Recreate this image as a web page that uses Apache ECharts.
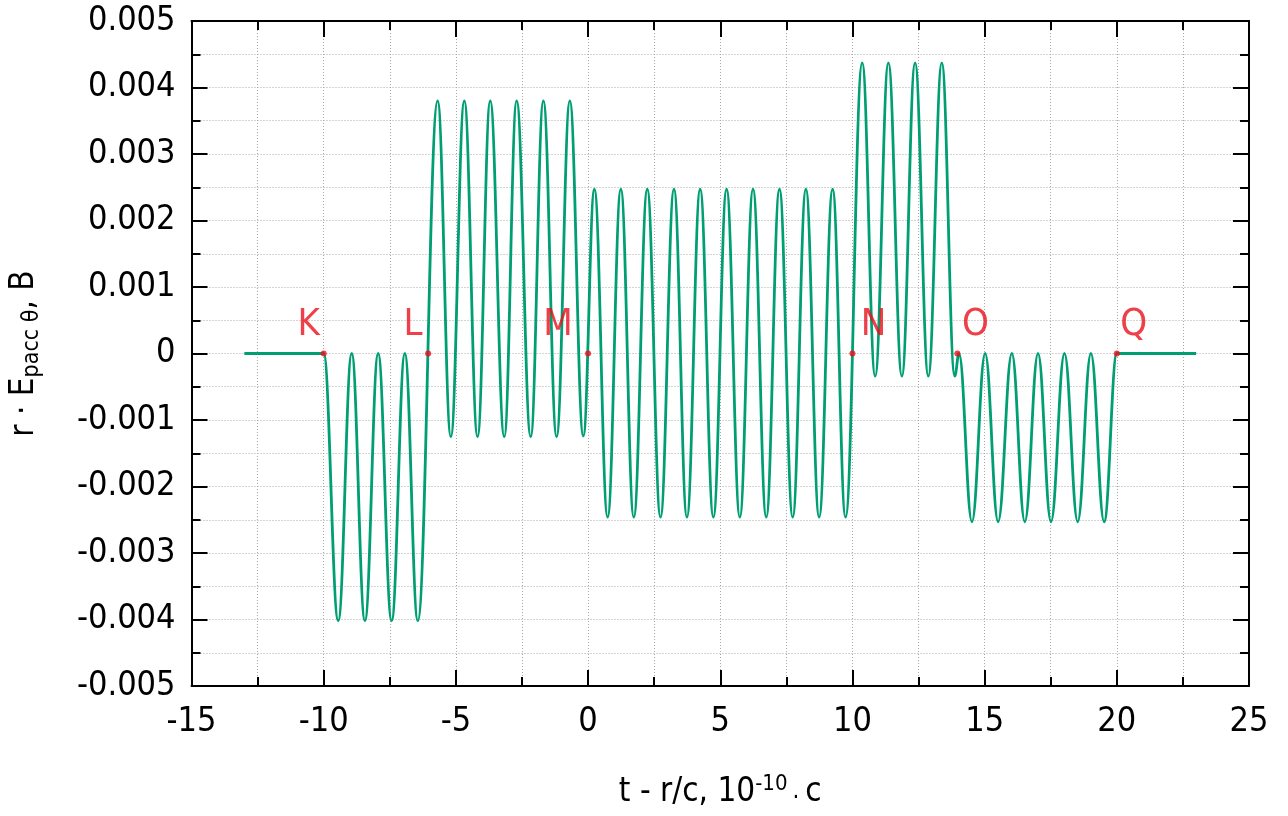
<!DOCTYPE html>
<html>
<head>
<meta charset="utf-8">
<script src="https://cdn.jsdelivr.net/npm/echarts@6/dist/echarts.min.js"></script>
<style>
  html, body { margin: 0; padding: 0; background: #fff; }
  #chart { width: 1288px; height: 816px; }
</style>
</head>
<body>
<div id="chart"></div>
<script>
// extrema of the waveform (x in 1e-10 c, y in B)
const curveX = [
  -13, -10,
  -9.45, -8.94, -8.44, -7.94, -7.43, -6.93, -6.44,
  -5.69, -5.19, -4.68, -4.18, -3.70, -3.17, -2.70, -2.17, -1.69, -1.19, -0.69, -0.18,
  0.24, 0.74, 1.24, 1.73, 2.24, 2.74, 3.25, 3.74, 4.24, 4.74,
  5.24, 5.74, 6.24, 6.74, 7.24, 7.74, 8.24, 8.74, 9.25, 9.74,
  10.37, 10.86, 11.36, 11.87, 12.37, 12.87, 13.38, 13.87,
  14.03,
  14.52, 15.02, 15.51, 16.03, 16.52, 17.02, 17.51, 18.02, 18.52, 19.02, 19.52, 20,
  23
];
const curveY = [
  0, 0,
  -0.00402, 0, -0.00402, 0, -0.00402, 0, -0.00402,
  0.0038, -0.00125, 0.0038, -0.00125, 0.0038, -0.00125, 0.0038, -0.00125, 0.0038, -0.00125, 0.0038, -0.00124,
  0.00247, -0.00246, 0.00247, -0.00246, 0.00247, -0.00246, 0.00247, -0.00246, 0.00247, -0.00246,
  0.00247, -0.00246, 0.00247, -0.00246, 0.00247, -0.00246, 0.00247, -0.00246, 0.00247, -0.00246,
  0.00437, -0.00034, 0.00437, -0.00034, 0.00437, -0.00034, 0.00437, -0.00034,
  0,
  -0.00253, 0, -0.00253, 0, -0.00253, 0, -0.00253, 0, -0.00253, 0, -0.00253, 0,
  0
];

const markNames = ['K', 'L', 'M', 'N', 'O', 'Q'];
const markX = [-10, -6.05, 0, 10, 13.97, 20];
const markY = [0, 0, 0, 0, 0, 0];

const xTickLabels = ['-15', '-10', '-5', '0', '5', '10', '15', '20', '25'];
const yTickLabels = ['-0.005', '-0.004', '-0.003', '-0.002', '-0.001', '0',
  '0.001', '0.002', '0.003', '0.004', '0.005'];

// label placement (pixels from the dot)
const markLabelOffset = [[-15, -28], [-15, -28], [-30, -28], [21, -28], [18, -28], [17, -28]];

const FONT = "'DejaVu Sans Condensed', 'Liberation Sans', sans-serif";
const GREEN = '#009e73';
const RED = '#e8101a';

const gridLine = { show: true, lineStyle: { color: '#a8a8a8', width: 1, type: [1, 2] } };

function makeX(pos) {
  return {
    type: 'value', position: pos, min: -15, max: 25, interval: 5,
    axisLine: { show: true, onZero: false, lineStyle: { color: '#000', width: 2 } },
    axisTick: { show: true, inside: true, length: 16, lineStyle: { color: '#000', width: 2 } },
    minorTick: { show: true, splitNumber: 2, length: 9, lineStyle: { color: '#000', width: 2 } },
    splitLine: pos === 'bottom' ? gridLine : { show: false },
    minorSplitLine: pos === 'bottom' ? gridLine : { show: false },
    axisLabel: {
      show: pos === 'bottom', fontSize: 34, fontFamily: FONT, color: '#000', margin: 19,
      formatter: v => xTickLabels[Math.round((v + 15) / 5)]
    }
  };
}

function makeY(pos) {
  return {
    type: 'value', position: pos, min: -0.005, max: 0.005, interval: 0.001,
    axisLine: { show: true, onZero: false, lineStyle: { color: '#000', width: 2 } },
    axisTick: { show: true, inside: true, length: 16, lineStyle: { color: '#000', width: 2 } },
    minorTick: { show: true, splitNumber: 2, length: 9, lineStyle: { color: '#000', width: 2 } },
    splitLine: pos === 'left' ? gridLine : { show: false },
    minorSplitLine: pos === 'left' ? gridLine : { show: false },
    axisLabel: {
      show: pos === 'left', fontSize: 34, fontFamily: FONT, color: '#000', margin: 16,
      formatter: v => yTickLabels[Math.round((v + 0.005) / 0.001)]
    }
  };
}

const xBottom = makeX('bottom');
xBottom.name = '{a|t - r/c, 10}{s|-10}{d|·}{a|c}';
xBottom.nameLocation = 'middle';
xBottom.nameGap = 87;
xBottom.nameTextStyle = {
  rich: {
    a: { fontSize: 33, lineHeight: 38, fontFamily: FONT, color: '#000' },
    s: { fontSize: 22, lineHeight: 22, fontFamily: FONT, color: '#000', verticalAlign: 'top' },
    d: { fontSize: 24, lineHeight: 34, fontFamily: FONT, color: '#000', verticalAlign: 'bottom', padding: [0, 6, 0, 5] }
  }
};

const yLeft = makeY('left');
yLeft.name = '{a|r · E}{s|pacc θ}{a|, B}';
yLeft.nameLocation = 'middle';
yLeft.nameRotate = 90;
yLeft.nameGap = 148;
yLeft.nameTextStyle = {
  rich: {
    a: { fontSize: 33, lineHeight: 38, fontFamily: FONT, color: '#000' },
    s: { fontSize: 23, lineHeight: 22, fontFamily: FONT, color: '#000', verticalAlign: 'bottom' }
  }
};

const chart = echarts.init(document.getElementById('chart'), null, { renderer: 'canvas' });

chart.setOption({
  animation: false,
  backgroundColor: '#fff',
  grid: { left: 188, right: 39, top: 21, bottom: 127, containLabel: false },
  xAxis: [xBottom, makeX('top')],
  yAxis: [yLeft, makeY('right')],
  series: [
    {
      type: 'line',
      xAxisIndex: 0, yAxisIndex: 0,
      data: curveX.map((x, i) => [x, curveY[i]]),
      showSymbol: false,
      smooth: 0.4,
      smoothMonotone: 'x',
      lineStyle: { color: GREEN, width: 2.8 },
      z: 3
    },
    {
      type: 'scatter',
      xAxisIndex: 0, yAxisIndex: 0,
      symbolSize: 6,
      itemStyle: { color: RED },
      z: 4,
      data: markX.map((x, i) => ({
        name: markNames[i],
        value: [x, markY[i]],
        label: { offset: markLabelOffset[i] }
      })),
      label: {
        show: true, position: 'inside', formatter: '{b}',
        fontSize: 38, fontFamily: FONT, color: RED
      }
    }
  ]
});
</script>
</body>
</html>
